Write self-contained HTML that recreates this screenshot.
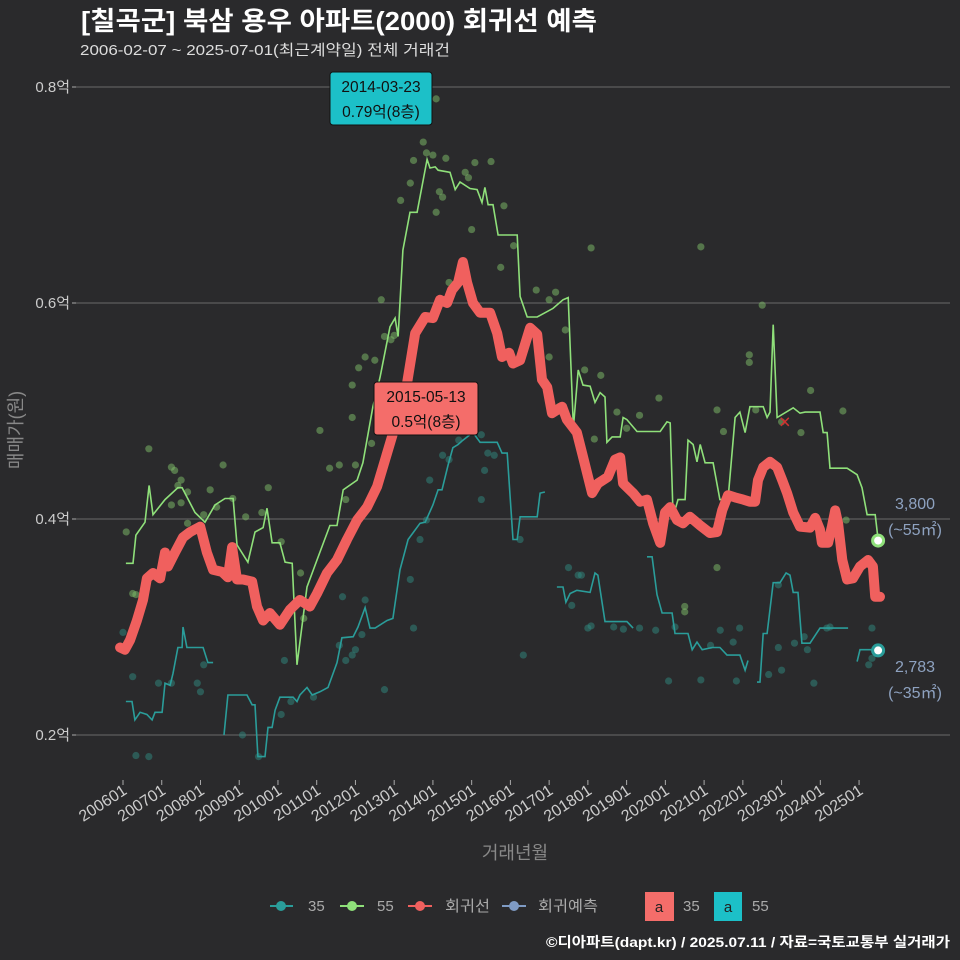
<!DOCTYPE html>
<html><head><meta charset="utf-8"><style>
html,body{margin:0;padding:0;background:#2a2a2c;}
svg{display:block;font-family:"Liberation Sans","Noto Sans CJK KR",sans-serif;}
</style></head><body>
<svg id="chart" width="960" height="960" viewBox="0 0 960 960">
<rect width="960" height="960" fill="#2a2a2c"/>
<text x="81" y="30" fill="#ffffff" font-size="26" font-weight="bold" textLength="516" lengthAdjust="spacingAndGlyphs">[칠곡군] 북삼 용우 아파트(2000) 회귀선 예측</text>
<text x="80" y="55" fill="#dddddd" font-size="15" textLength="370" lengthAdjust="spacingAndGlyphs">2006-02-07 ~ 2025-07-01(최근계약일) 전체 거래건</text>
<g id="grid"></g>
<g id="yaxis"></g>
<g id="xaxis"></g>
<g id="dots"></g>
<g id="lines"></g>
<g id="ann"></g>
<text transform="translate(22,430) rotate(-90)" text-anchor="middle" fill="#888" font-size="18">매매가(원)</text>
<text x="515" y="859" text-anchor="middle" fill="#888" font-size="18">거래년월</text>
<g id="legend" font-size="15" fill="#aaa">
 <g><line x1="270" y1="906" x2="293" y2="906" stroke="#2a9d9a" stroke-width="2"/><circle cx="281" cy="906" r="5" fill="#2a9d9a"/><text x="308" y="911" fill="#aaa">35</text></g>
 <g><line x1="340" y1="906" x2="364" y2="906" stroke="#8fe07a" stroke-width="2"/><circle cx="352" cy="906" r="5" fill="#8fe07a"/><text x="377" y="911" fill="#aaa">55</text></g>
 <g><line x1="408" y1="906" x2="432" y2="906" stroke="#f0605e" stroke-width="2"/><circle cx="420" cy="906" r="5" fill="#f0605e"/><text x="445" y="911" fill="#aaa" textLength="45" lengthAdjust="spacingAndGlyphs">회귀선</text></g>
 <g><line x1="502" y1="906" x2="526" y2="906" stroke="#7f9bc4" stroke-width="2"/><circle cx="514" cy="906" r="5" fill="#7f9bc4"/><text x="538" y="911" fill="#aaa" textLength="60" lengthAdjust="spacingAndGlyphs">회귀예측</text></g>
 <g><rect x="645" y="892" width="29" height="29" fill="#f46d6a"/><text x="659" y="912" text-anchor="middle" fill="#222" font-size="15">a</text><text x="683" y="911" fill="#aaa">35</text></g>
 <g><rect x="714" y="892" width="28" height="29" fill="#1cc0c8"/><text x="728" y="912" text-anchor="middle" fill="#222" font-size="15">a</text><text x="752" y="911" fill="#aaa">55</text></g>
</g>
<text x="950" y="947" text-anchor="end" fill="#ffffff" font-size="14" font-weight="bold" textLength="404" lengthAdjust="spacingAndGlyphs">©디아파트(dapt.kr) / 2025.07.11 / 자료=국토교통부 실거래가</text>
</svg>
<script>
// months since 2006-01 and prices in 억
const g55Month=[0.9,3.1,4.0,6.8,8.1,9.3,13.0,17.0,18.3,22.3,25.4,28.5,31.6,34.1,35.3,38.7,40.9,43.4,44.6,46.2,48.6,50.2,52.4,53.9,57.0,60.1,64.1,66.3,68.2,72.5,74.3,77.4,79.6,82.7,84.3,85.2,86.7,88.9,91.1,94.2,95.1,96.7,97.6,101.3,102.9,104.4,107.5,109.7,111.2,112.1,113.1,114.6,116.2,122.1,123.0,125.2,128.3,133.2,136.3,137.9,139.5,141.0,142.5,144.7,146.2,147.8,149.3,149.9,151.5,154.0,154.9,156.1,159.2,166.4,168.5,169.5,170.4,171.9,174.1,175.0,176.6,177.8,178.8,180.3,182.8,184.9,187.4,189.6,191.1,192.7,194.2,198.3,199.5,200.4,201.4,202.6,207.6,209.7,211.3,215.9,216.9,218.1,219.0,224.3,227.4,228.9,230.5,233.0,233.9];
const g55Val=[.359,.359,.385,.397,.431,.404,.418,.429,.429,.406,.397,.413,.419,.419,.376,.360,.388,.392,.410,.378,.378,.360,.359,.265,.337,.362,.394,.394,.427,.436,.452,.504,.531,.578,.586,.569,.649,.684,.684,.733,.725,.726,.723,.721,.705,.712,.706,.705,.693,.707,.691,.691,.663,.663,.606,.587,.587,.595,.603,.605,.485,.538,.524,.523,.508,.517,.513,.471,.476,.476,.494,.492,.481,.481,.490,.489,.402,.418,.418,.473,.469,.453,.469,.452,.452,.418,.418,.494,.499,.480,.504,.504,.494,.499,.580,.494,.503,.498,.499,.499,.480,.480,.447,.447,.441,.429,.404,.404,.381];
const t35Month=[0.9,2.8,3.7,5.3,7.4,9.0,9.9,12.1,13.0,14.6,15.5,17.0,18.3,18.6,19.8,23.2,24.8,26.3,27.9,null,31.3,32.5,38.4,40.0,40.9,41.8,44.0,44.9,46.2,47.1,48.6,52.7,53.9,54.8,57.0,58.6,61.0,63.5,66.3,67.8,71.3,72.8,75.0,76.5,78.1,81.8,83.6,85.8,88.3,89.8,92.0,93.6,96.0,97.6,98.8,100.7,102.2,103.8,105.3,107.5,108.4,110.6,112.8,115.9,117.4,119.0,120.8,122.1,123.0,128.3,129.2,130.7,null,134.4,136.3,137.2,138.5,140.6,144.7,146.2,147.1,149.3,156.1,158.0,null,162.3,163.9,165.4,167.0,170.1,171.0,175.0,176.3,177.8,179.4,182.5,184.9,187.1,191.1,192.7,193.6,null,196.4,197.3,198.3,199.5,201.4,203.5,205.4,206.6,207.6,209.1,210.3,212.8,215.9,224.6,null,227.4,228.3,232.0,233.9];
const t35Val=[.231,.231,.214,.221,.219,.214,.221,.221,.248,.246,.257,.281,.281,.300,.281,.281,.281,.267,.267,null,.200,.237,.237,.228,.228,.180,.180,.207,.207,.223,.235,.235,.231,.237,.244,.237,.240,.244,.267,.290,.291,.300,.318,.299,.299,.306,.308,.353,.381,.387,.396,.397,.413,.427,.427,.450,.466,.469,.473,.478,.480,.471,.471,.471,.461,.461,.381,.381,.402,.402,.424,.425,null,.337,.337,.323,.331,.334,.332,.350,.348,.305,.305,.299,null,.365,.365,.330,.313,.313,.294,.294,.279,.286,.279,.281,.281,.274,.274,.260,.269,null,.249,.249,.294,.294,.341,.341,.350,.348,.332,.332,.285,.285,.299,.299,null,.268,.279,.279,.278];
const regMonth=[-0.9,0.6,2.2,4.3,6.2,7.4,9.3,11.5,13.0,13.9,16.1,18.6,20.8,23.9,26.0,27.9,30.7,32.5,33.8,35.3,37.2,40.0,41.5,43.4,45.5,48.6,51.7,54.8,57.9,60.1,63.2,66.3,69.4,72.5,75.6,78.7,81.8,84.9,88.0,90.5,93.6,96.0,98.2,100.4,101.9,103.8,105.3,106.6,108.4,110.6,113.7,115.9,117.4,119.6,120.8,123.0,126.1,128.3,129.8,131.4,132.9,136.0,137.5,140.6,142.2,145.3,147.1,150.2,152.4,154.0,154.9,158.0,160.2,162.3,164.2,166.4,167.9,169.5,171.6,173.5,175.6,178.8,181.8,184.0,185.6,187.4,189.6,192.1,194.2,195.8,196.7,198.3,200.4,202.6,204.2,205.7,207.6,209.7,212.8,214.4,215.9,216.5,218.4,219.6,220.6,221.5,222.8,224.3,226.1,228.3,230.8,232.3,233.0,234.5];
const regVal=[.281,.279,.288,.306,.325,.345,.350,.345,.369,.356,.369,.383,.388,.393,.369,.353,.351,.346,.374,.344,.344,.342,.319,.306,.313,.302,.316,.325,.319,.331,.350,.362,.381,.399,.411,.430,.461,.492,.526,.572,.587,.586,.603,.600,.612,.619,.638,.619,.600,.591,.591,.572,.550,.554,.544,.547,.577,.571,.529,.522,.498,.504,.492,.480,.461,.424,.433,.439,.455,.457,.433,.424,.416,.418,.396,.378,.406,.411,.399,.396,.402,.394,.387,.388,.408,.422,.420,.418,.416,.416,.436,.448,.453,.448,.436,.424,.406,.393,.392,.401,.390,.378,.378,.393,.408,.396,.362,.344,.345,.356,.362,.356,.328,.328];
const dot55Month=[1,3,4,8,15,16,17,18,20,18,15,20,25,27,31,29,34,38,45,43,49,55,56,61,64,67,69,71,71,72,73,75,77,78,80,81,83,84,86,89,90,93,94,96,100,97,98,99,97,101,106,107,109,108,114,117,121,118,128,132,134,137,132,145,135,143,146,148,153,156,160,166,179,184,186,196,194,194,198,204,210,213,223,224,188,184,174,174];
const dot55Val=[.388,.331,.330,.465,.448,.445,.431,.436,.425,.415,.413,.396,.404,.427,.450,.411,.419,.402,.429,.406,.379,.350,.308,.482,.447,.450,.418,.524,.494,.450,.540,.550,.470,.547,.603,.569,.566,.570,.695,.711,.732,.749,.739,.737,.734,.789,.703,.698,.684,.619,.721,.716,.730,.668,.731,.633,.653,.690,.612,.603,.610,.575,.550,.651,.504,.538,.474,.533,.499,.484,.496,.512,.652,.501,.481,.501,.552,.545,.598,.490,.480,.519,.500,.399,.420,.355,.319,.314];
const dot35Month=[0,3,4,8,11,15,23,24,25,37,42,49,50,52,59,67,69,71,72,74,68,75,81,89,92,94,95,90,99,101,104,111,115,113,112,123,111,124,138,145,139,141,142,144,152,155,179,171,182,185,190,191,204,208,211,214,218,219,232,232,231,212,200,203,203,169,189,165,160];
const dot35Val=[.295,.254,.181,.180,.248,.248,.248,.240,.265,.200,.180,.219,.269,.231,.235,.283,.269,.274,.279,.293,.328,.325,.242,.344,.381,.399,.436,.299,.459,.455,.473,.478,.459,.461,.445,.381,.418,.274,.355,.301,.320,.348,.348,.299,.300,.298,.251,.300,.283,.297,.250,.299,.260,.285,.291,.248,.299,.300,.299,.271,.265,.279,.256,.339,.281,.250,.286,.297,.299];
const yTicks=[0.2,0.4,0.6,0.8];
const xTickLabels=["200601","200701","200801","200901","201001","201101","201201","201301","201401","201501","201601","201701","201801","201901","202001","202101","202201","202301","202401","202501"];
const endValues=[3800,2783];

const NS="http://www.w3.org/2000/svg";
function xs(m){return 123+m*38.74/12;}
function ys(v){return 951-v*1080;}
function mk(tag,attrs,parent){const e=document.createElementNS(NS,tag);for(const k in attrs)e.setAttribute(k,attrs[k]);parent.appendChild(e);return e;}
const grid=document.getElementById('grid'),yaxis=document.getElementById('yaxis'),xaxis=document.getElementById('xaxis');
yTicks.forEach(v=>{
 const l=mk('line',{x1:76,x2:950,y1:ys(v),y2:ys(v),stroke:'#6a6a6a','stroke-width':1},grid);
 
 
 const t=mk('text',{x:70,y:ys(v)+5,'text-anchor':'end',fill:'#cccccc','font-size':15},yaxis);
 t.textContent=v+'억';
 
 
 mk('line',{x1:72,x2:76,y1:ys(v),y2:ys(v),stroke:'#aaa'},yaxis);
});
xTickLabels.forEach((s,i)=>{
 const x=xs(i*12);
 mk('line',{x1:x,x2:x,y1:780,y2:785,stroke:'#aaa'},xaxis);
 const t=mk('text',{transform:`translate(${x+5},${793}) rotate(-33)`,'text-anchor':'end',fill:'#cccccc','font-size':16},xaxis);
 t.textContent=s;
 
 
});
const dots=document.getElementById('dots');
dot55Month.forEach((m,i)=>{
 const c=mk('circle',{cx:xs(m),cy:ys(dot55Val[i]),r:3.6,fill:'#7fbf6a','fill-opacity':0.5},dots);
 
 
});
dot35Month.forEach((m,i)=>{
 const c=mk('circle',{cx:xs(m),cy:ys(dot35Val[i]),r:3.6,fill:'#2f8a80','fill-opacity':0.5},dots);
 
 
});
function pathFrom(ms,vs){let d='',pen=false;ms.forEach((m,i)=>{if(m===null||vs[i]===null){pen=false;return;}d+=(pen?'L':'M')+xs(m).toFixed(1)+','+ys(vs[i]).toFixed(1);pen=true;});return d;}
const lines=document.getElementById('lines');
const p35=mk('path',{d:pathFrom(t35Month,t35Val),fill:'none',stroke:'#2a9d9a','stroke-width':1.6},lines);


const p55=mk('path',{d:pathFrom(g55Month,g55Val),fill:'none',stroke:'#8fe07a','stroke-width':1.6},lines);


const pr=mk('path',{d:pathFrom(regMonth,regVal),fill:'none',stroke:'#f0605e','stroke-width':10,'stroke-linejoin':'round','stroke-linecap':'round'},lines);


const ann=document.getElementById('ann');
const xm=mk('path',{d:`M${xs(205)-4},${ys(0.49)-4}l8,8m0,-8l-8,8`,stroke:'#d03030','stroke-width':1.5},ann);


const e55=mk('circle',{cx:xs(233.9),cy:ys(endValues[0]/10000),r:5.5,fill:'#fff',stroke:'#8fe07a','stroke-width':3},ann);


const e35=mk('circle',{cx:xs(233.9),cy:ys(endValues[1]/10000),r:5.5,fill:'#fff',stroke:'#2a9d9a','stroke-width':3},ann);


function lbl(x,y,s,name){const t=mk('text',{x:x,y:y,'text-anchor':'middle',fill:'#8ea2c0','font-size':16},ann);t.textContent=s;}
lbl(915,509,endValues[0].toLocaleString('en-US'),'end-label-55-price');
lbl(915,535,'(~55㎡)','end-label-55-area');
lbl(915,672,endValues[1].toLocaleString('en-US'),'end-label-35-price');
lbl(915,698,'(~35㎡)','end-label-35-area');
function box(x,y,w,h,fill,l1,l2,name){
 const g=mk('g',{},ann);
 
 
 mk('rect',{x:x,y:y,width:w,height:h,rx:3,fill:fill,stroke:'#111','stroke-width':1},g);
 const a=mk('text',{x:x+w/2,y:y+20,'text-anchor':'middle',fill:'#111','font-size':15.5},g);a.textContent=l1;
 const b=mk('text',{x:x+w/2,y:y+45,'text-anchor':'middle',fill:'#111','font-size':15.5},g);b.textContent=l2;
}
box(330,72,102,53,'#1cc0c8','2014-03-23','0.79억(8층)','max-annotation-55');
box(374,382,104,53,'#f46d6a','2015-05-13','0.5억(8층)','max-annotation-35');
</script>
</body></html>
